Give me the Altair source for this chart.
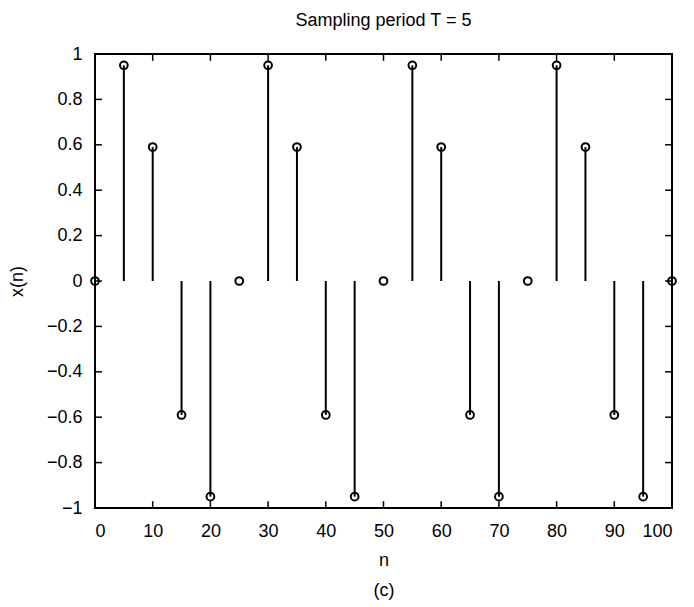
import altair as alt
import pandas as pd

n_vals = [0, 5, 10, 15, 20, 25, 30, 35, 40, 45, 50, 55, 60, 65, 70, 75, 80, 85, 90, 95, 100]
x_vals = [0, 0.95, 0.59, -0.59, -0.95, 0, 0.95, 0.59, -0.59, -0.95, 0,
          0.95, 0.59, -0.59, -0.95, 0, 0.95, 0.59, -0.59, -0.95, 0]
x_ticks = [0, 10, 20, 30, 40, 50, 60, 70, 80, 90, 100]
y_ticks = [-1, -0.8, -0.6, -0.4, -0.2, 0, 0.2, 0.4, 0.6, 0.8, 1]

FONT = "Liberation Sans"
FS = 18
W, H = 577, 454

df = pd.DataFrame({"n": n_vals, "x": x_vals, "zero": [0] * len(n_vals)})

xs = alt.Scale(domain=[0, 100], nice=False, zero=False)
ys = alt.Scale(domain=[-1, 1], nice=False, zero=False)

xaxis = alt.Axis(values=x_ticks, ticks=False, domain=False, grid=False, format="d",
                 labelFontSize=FS, labelPadding=14, labelFont=FONT, labelColor="black",
                 title=["n", "(c)"], titleFontSize=FS, titleFont=FONT, titleFontWeight="normal",
                 titleLineHeight=30, titlePadding=11, titleColor="black")
yaxis = alt.Axis(values=y_ticks, ticks=False, domain=False, grid=False, format="~g",
                 labelFontSize=FS, labelPadding=13, labelFont=FONT, labelColor="black",
                 title="x(n)", titleFontSize=FS, titleFont=FONT, titleFontWeight="normal",
                 titlePadding=20, titleColor="black")

stems = alt.Chart(df).mark_rule(color="black", strokeWidth=2).encode(
    x=alt.X("n:Q", scale=xs, axis=xaxis),
    y=alt.Y("zero:Q", scale=ys, axis=yaxis),
    y2="x:Q",
)
points = alt.Chart(df).mark_point(shape="circle", filled=False, color="black",
                                  size=60, strokeWidth=2, opacity=1).encode(
    x=alt.X("n:Q", scale=xs),
    y=alt.Y("x:Q", scale=ys),
)

xt = pd.DataFrame({"t": x_ticks})
yt = pd.DataFrame({"t": y_ticks})
tick_len_y = 0.03
tick_len_x = 1.2
bottom_ticks = alt.Chart(xt).mark_rule(color="black", strokeWidth=1.5).encode(
    x=alt.X("t:Q", scale=xs), y=alt.datum(-1), y2=alt.datum(-1 + tick_len_y))
top_ticks = alt.Chart(xt).mark_rule(color="black", strokeWidth=1.5).encode(
    x=alt.X("t:Q", scale=xs), y=alt.datum(1), y2=alt.datum(1 - tick_len_y))
left_ticks = alt.Chart(yt).mark_rule(color="black", strokeWidth=1.5).encode(
    y=alt.Y("t:Q", scale=ys), x=alt.datum(0), x2=alt.datum(tick_len_x))
right_ticks = alt.Chart(yt).mark_rule(color="black", strokeWidth=1.5).encode(
    y=alt.Y("t:Q", scale=ys), x=alt.datum(100), x2=alt.datum(100 - tick_len_x))

chart = alt.layer(bottom_ticks, top_ticks, left_ticks, right_ticks, stems, points).properties(
    width=W, height=H,
    title=alt.TitleParams("Sampling period T = 5", font=FONT, fontSize=FS,
                          fontWeight="normal", color="black", offset=15,
                          anchor="middle"),
    autosize=alt.AutoSizeParams(type="none"),
    padding={"left": 87, "top": 46, "right": 14, "bottom": 100},
).configure_view(stroke="black", strokeWidth=2)

chart.save("out.html", embed_options={"renderer": "svg", "actions": False})
